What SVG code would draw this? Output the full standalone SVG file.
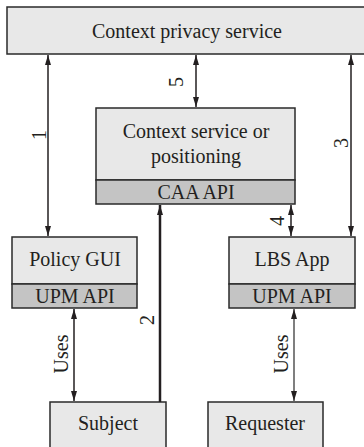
<svg xmlns="http://www.w3.org/2000/svg" width="364" height="447" viewBox="0 0 364 447">
<style>
.box{fill:#e8e8e8;stroke:#2a2a2a;stroke-width:1.5}
.api{fill:#c4c4c4;stroke:#2a2a2a;stroke-width:1.5}
.t{font-family:"Liberation Serif",serif;font-size:20px;fill:#231f20;text-anchor:middle}
.c{stroke:#231f20;stroke-width:1.5;fill:none}
</style>
<defs>
<marker id="ah" viewBox="0 0 10 6" refX="10" refY="3" markerWidth="10" markerHeight="6" markerUnits="userSpaceOnUse" orient="auto-start-reverse">
<path d="M0,0 L10,3 L0,6 z" fill="#231f20"/>
</marker>
</defs>
<rect width="364" height="447" fill="#ffffff"/>
<g id="cps">
<rect class="box" x="7" y="7" width="362" height="47"/>
<text class="t" x="187" y="38">Context privacy service</text>
</g>
<g id="ctx">
<rect class="box" x="96" y="108" width="199" height="72"/>
<text class="t" x="196" y="138">Context service or</text>
<text class="t" x="196" y="163">positioning</text>
<rect class="api" x="96" y="180" width="199" height="24"/>
<text class="t" x="196" y="199">CAA API</text>
</g>
<g id="policy">
<rect class="box" x="12" y="237" width="125" height="47"/>
<text class="t" x="75" y="266">Policy GUI</text>
<rect class="api" x="12" y="284" width="125" height="24"/>
<text class="t" x="75" y="303">UPM API</text>
</g>
<g id="lbs">
<rect class="box" x="229" y="237" width="126" height="47"/>
<text class="t" x="292" y="266">LBS App</text>
<rect class="api" x="229" y="284" width="126" height="24"/>
<text class="t" x="292" y="303">UPM API</text>
</g>
<g id="subject">
<rect class="box" x="50" y="402" width="116" height="60"/>
<text class="t" x="108" y="430">Subject</text>
</g>
<g id="requester">
<rect class="box" x="208" y="402" width="115" height="60"/>
<text class="t" x="265" y="430">Requester</text>
</g>
<g id="connectors">
<line class="c" x1="48" y1="55" x2="48" y2="236" marker-start="url(#ah)" marker-end="url(#ah)"/>
<text class="t" transform="translate(46,135) rotate(-90)">1</text>
<line class="c" x1="196" y1="55" x2="196" y2="107" marker-start="url(#ah)" marker-end="url(#ah)"/>
<text class="t" transform="translate(183,82) rotate(-90)">5</text>
<line class="c" x1="351" y1="55" x2="351" y2="236" marker-start="url(#ah)" marker-end="url(#ah)"/>
<text class="t" transform="translate(348,143) rotate(-90)">3</text>
<line class="c" x1="291" y1="205" x2="291" y2="236" marker-start="url(#ah)" marker-end="url(#ah)"/>
<text class="t" transform="translate(284,221) rotate(-90)">4</text>
<line class="c" style="stroke-width:2.5" x1="160" y1="402" x2="160" y2="205" marker-end="url(#ah)"/>
<text class="t" transform="translate(154,320) rotate(-90)">2</text>
<line class="c" x1="74" y1="309" x2="74" y2="401" marker-start="url(#ah)" marker-end="url(#ah)"/>
<text class="t" transform="translate(68,354) rotate(-90)">Uses</text>
<line class="c" style="stroke:#555" x1="294" y1="309" x2="294" y2="401" marker-start="url(#ah)" marker-end="url(#ah)"/>
<text class="t" transform="translate(288,354) rotate(-90)">Uses</text>
</g>
</svg>
